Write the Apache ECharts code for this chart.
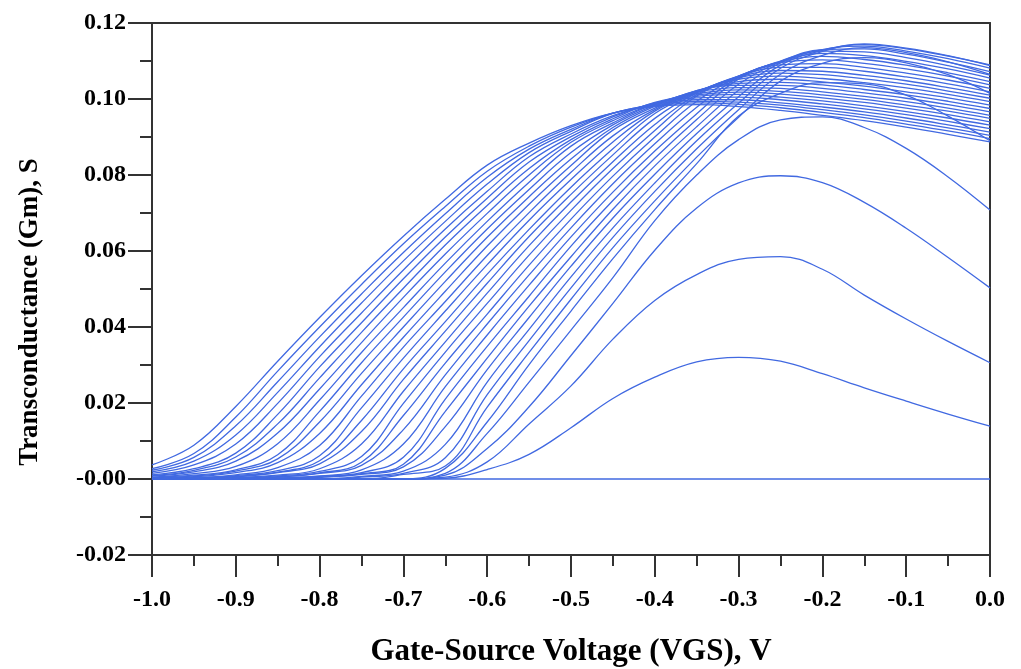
<!DOCTYPE html>
<html><head><meta charset="utf-8">
<script src="https://cdn.jsdelivr.net/npm/echarts@6/dist/echarts.min.js"></script>
<style>html,body{margin:0;padding:0;background:#fff}#c{width:1021px;height:669px}</style>
</head><body><div id="c"></div>
<script>
const vgs = [-1.00,-0.95,-0.90,-0.85,-0.80,-0.75,-0.70,-0.65,-0.60,-0.55,-0.50,-0.45,-0.40,-0.35,-0.30,-0.25,-0.20,-0.15,-0.10,-0.05,0.00];
const xTickLabels = ['-1.0','-0.9','-0.8','-0.7','-0.6','-0.5','-0.4','-0.3','-0.2','-0.1','0.0'];
const yTickLabels = ['-0.02','-0.00','0.02','0.04','0.06','0.08','0.10','0.12'];
const xTitle = 'Gate-Source Voltage (VGS), V';
const yTitle = 'Transconductance (Gm), S';

const gm00 = [0,0,0,0,0,0,0,0,0,0,0,0,0,0,0,0,0,0,0,0,0];
const gm01 = [0,0,0,0,0,0,0,0.0002,0.0025,0.0065,0.0135,0.0212,0.0268,0.0308,0.0320,0.0310,0.0277,0.0240,0.0205,0.0171,0.0139];
const gm02 = [0,0,0,0,0,0,0,0.0005,0.0045,0.0145,0.0245,0.0368,0.0470,0.0538,0.0578,0.0585,0.0552,0.0484,0.0421,0.0362,0.0306];
const gm03 = [0,0,0,0,0,0,0,0.0010,0.0080,0.0190,0.0325,0.0462,0.0602,0.0713,0.0779,0.0798,0.0780,0.0728,0.0660,0.0583,0.0503];
const gm04 = [0,0,0,0,0,0,0,0.0015,0.0120,0.0255,0.0392,0.0530,0.0680,0.0800,0.0893,0.0945,0.0953,0.0925,0.0870,0.0795,0.0708];
const gm05 = [0,0,0,0,0,0,0,0.0028,0.0150,0.0301,0.0442,0.0580,0.0709,0.0830,0.0955,0.1015,0.1043,0.1040,0.1010,0.0955,0.0890];
const gm06 = [0,0,0,0,0,0,0.0012,0.0034,0.0189,0.0333,0.0473,0.0609,0.0732,0.0847,0.0952,0.1047,0.1094,0.1109,0.1095,0.1064,0.1015];
const gm07 = [0,0,0,0,0,0.0005,0.0015,0.0056,0.0222,0.0364,0.0503,0.0636,0.0757,0.0869,0.0972,0.1065,0.1115,0.1135,0.1122,0.1098,0.1065];
const gm08 = [0,0,0,0,0,0.0007,0.0021,0.0091,0.0255,0.0394,0.0532,0.0661,0.0779,0.0890,0.0989,0.1081,0.1125,0.1145,0.1134,0.1114,0.1088];
const gm09 = [0,0,0,0,0.0004,0.0012,0.0032,0.0138,0.0288,0.0425,0.0560,0.0687,0.0802,0.0909,0.1006,0.1089,0.1128,0.1143,0.1132,0.1113,0.1090];
const gm10 = [0,0,0,0.0002,0.0005,0.0014,0.0039,0.0178,0.0318,0.0455,0.0585,0.0710,0.0824,0.0927,0.1023,0.1095,0.1130,0.1139,0.1126,0.1106,0.1081];
const gm11 = [0,0,0,0.0002,0.0007,0.0017,0.0057,0.0210,0.0349,0.0481,0.0613,0.0733,0.0844,0.0946,0.1039,0.1098,0.1130,0.1132,0.1118,0.1097,0.1072];
const gm12 = [0,0,0.0001,0.0003,0.0008,0.0024,0.0092,0.0243,0.0379,0.0510,0.0637,0.0755,0.0863,0.0961,0.1053,0.1100,0.1126,0.1124,0.1109,0.1088,0.1063];
const gm13 = [0,0,0.0001,0.0005,0.0015,0.0036,0.0130,0.0274,0.0408,0.0537,0.0661,0.0777,0.0882,0.0978,0.1057,0.1099,0.1120,0.1114,0.1099,0.1079,0.1055];
const gm14 = [0,0.0001,0.0002,0.0006,0.0016,0.0044,0.0167,0.0305,0.0434,0.0563,0.0684,0.0797,0.0900,0.0994,0.1059,0.1098,0.1112,0.1104,0.1089,0.1069,0.1046];
const gm15 = [0.0001,0.0001,0.0003,0.0008,0.0020,0.0059,0.0199,0.0334,0.0462,0.0589,0.0707,0.0817,0.0917,0.1008,0.1060,0.1096,0.1103,0.1094,0.1079,0.1060,0.1037];
const gm16 = [0.0001,0.0001,0.0004,0.0010,0.0027,0.0092,0.0231,0.0361,0.0489,0.0614,0.0729,0.0835,0.0933,0.1012,0.1060,0.1090,0.1093,0.1083,0.1068,0.1050,0.1028];
const gm17 = [0.0001,0.0002,0.0006,0.0017,0.0040,0.0125,0.0262,0.0389,0.0515,0.0638,0.0749,0.0853,0.0949,0.1016,0.1060,0.1083,0.1083,0.1073,0.1058,0.1040,0.1019];
const gm18 = [0.0001,0.0002,0.0007,0.0018,0.0048,0.0154,0.0290,0.0414,0.0539,0.0657,0.0768,0.0869,0.0962,0.1017,0.1058,0.1075,0.1073,0.1062,0.1048,0.1030,0.1010];
const gm19 = [0.0001,0.0003,0.0009,0.0022,0.0061,0.0187,0.0318,0.0442,0.0564,0.0681,0.0788,0.0887,0.0968,0.1019,0.1056,0.1068,0.1064,0.1053,0.1039,0.1021,0.1002];
const gm20 = [0.0002,0.0004,0.0011,0.0030,0.0088,0.0218,0.0347,0.0467,0.0588,0.0701,0.0807,0.0903,0.0972,0.1020,0.1052,0.1060,0.1054,0.1043,0.1029,0.1012,0.0993];
const gm21 = [0.0002,0.0006,0.0017,0.0043,0.0120,0.0248,0.0373,0.0494,0.0613,0.0723,0.0825,0.0918,0.0976,0.1022,0.1046,0.1052,0.1045,0.1034,0.1019,0.1003,0.0984];
const gm22 = [0.0003,0.0008,0.0021,0.0053,0.0150,0.0278,0.0400,0.0520,0.0636,0.0743,0.0842,0.0925,0.0981,0.1022,0.1041,0.1044,0.1037,0.1025,0.1011,0.0994,0.0975];
const gm23 = [0.0004,0.0010,0.0024,0.0064,0.0178,0.0306,0.0426,0.0545,0.0658,0.0762,0.0859,0.0932,0.0984,0.1021,0.1036,0.1036,0.1028,0.1016,0.1002,0.0985,0.0966];
const gm24 = [0.0005,0.0014,0.0033,0.0093,0.0208,0.0333,0.0451,0.0568,0.0678,0.0781,0.0876,0.0937,0.0987,0.1018,0.1030,0.1028,0.1019,0.1007,0.0993,0.0976,0.0957];
const gm25 = [0.0008,0.0019,0.0047,0.0121,0.0237,0.0359,0.0478,0.0592,0.0699,0.0800,0.0886,0.0943,0.0988,0.1014,0.1024,0.1020,0.1011,0.0999,0.0984,0.0968,0.0949];
const gm26 = [0.0009,0.0023,0.0058,0.0145,0.0266,0.0386,0.0502,0.0616,0.0720,0.0817,0.0893,0.0948,0.0991,0.1011,0.1018,0.1013,0.1003,0.0991,0.0976,0.0959,0.0940];
const gm27 = [0.0011,0.0027,0.0068,0.0170,0.0295,0.0411,0.0527,0.0637,0.0739,0.0834,0.0901,0.0953,0.0990,0.1007,0.1012,0.1005,0.0995,0.0982,0.0967,0.0950,0.0931];
const gm28 = [0.0015,0.0037,0.0092,0.0199,0.0322,0.0437,0.0550,0.0658,0.0757,0.0848,0.0908,0.0956,0.0988,0.1003,0.1005,0.0998,0.0987,0.0974,0.0959,0.0941,0.0922];
const gm29 = [0.0019,0.0047,0.0116,0.0228,0.0348,0.0463,0.0574,0.0678,0.0776,0.0859,0.0915,0.0962,0.0986,0.0998,0.0998,0.0990,0.0979,0.0966,0.0950,0.0932,0.0913];
const gm30 = [0.0023,0.0057,0.0140,0.0256,0.0374,0.0487,0.0596,0.0698,0.0794,0.0868,0.0920,0.0963,0.0984,0.0994,0.0992,0.0984,0.0972,0.0958,0.0942,0.0924,0.0904];
const gm31 = [0.0027,0.0067,0.0163,0.0284,0.0400,0.0512,0.0619,0.0717,0.0810,0.0876,0.0926,0.0963,0.0982,0.0990,0.0986,0.0977,0.0965,0.0951,0.0934,0.0916,0.0896];
const gm32 = [0.0037,0.0089,0.0191,0.0310,0.0425,0.0535,0.0639,0.0736,0.0826,0.0884,0.0930,0.0963,0.0980,0.0985,0.0980,0.0970,0.0957,0.0943,0.0926,0.0907,0.0887];

const curves = [gm00,gm01,gm02,gm03,gm04,gm05,gm06,gm07,gm08,gm09,gm10,gm11,gm12,gm13,gm14,gm15,gm16,
  gm17,gm18,gm19,gm20,gm21,gm22,gm23,gm24,gm25,gm26,gm27,gm28,gm29,gm30,gm31,gm32];

const AX = '#333';
const FONT = '"Liberation Serif", "Times New Roman", serif';
const labelStyle = {fontFamily: FONT, fontWeight: 'bold', fontSize: 24, color: '#000'};

const chart = echarts.init(document.getElementById('c'), null, {renderer: 'canvas'});
chart.setOption({
  animation: false,
  backgroundColor: '#fff',
  grid: {left: 152, right: 31, top: 23, bottom: 114, containLabel: false},
  xAxis: [{
    type: 'value', min: -1, max: 0, interval: 0.1, position: 'bottom',
    axisLine: {show: true, onZero: false, lineStyle: {color: AX, width: 2}},
    axisTick: {show: true, length: 22, lineStyle: {color: AX, width: 2}},
    minorTick: {show: true, splitNumber: 2, length: 11, lineStyle: {color: AX, width: 2}},
    splitLine: {show: false}, minorSplitLine: {show: false},
    axisLabel: Object.assign({margin: 33, formatter: v => xTickLabels[Math.round((v + 1) / 0.1)]}, labelStyle)
  }, {
    type: 'value', min: -1, max: 0, position: 'top',
    axisLine: {show: true, onZero: false, lineStyle: {color: AX, width: 2}},
    axisTick: {show: false}, axisLabel: {show: false}, splitLine: {show: false}
  }],
  yAxis: [{
    type: 'value', min: -0.02, max: 0.12, interval: 0.02, position: 'left',
    axisLine: {show: true, onZero: false, lineStyle: {color: AX, width: 2}},
    axisTick: {show: true, length: 24, lineStyle: {color: AX, width: 2}},
    minorTick: {show: true, splitNumber: 2, length: 12, lineStyle: {color: AX, width: 2}},
    splitLine: {show: false}, minorSplitLine: {show: false},
    axisLabel: Object.assign({margin: 26, formatter: v => yTickLabels[Math.round((v + 0.02) / 0.02)]}, labelStyle)
  }, {
    type: 'value', min: -0.02, max: 0.12, position: 'right',
    axisLine: {show: true, onZero: false, lineStyle: {color: AX, width: 2}},
    axisTick: {show: false}, axisLabel: {show: false}, splitLine: {show: false}
  }],
  graphic: [{
    type: 'text', x: 571, y: 652,
    style: {text: xTitle, fill: '#000', font: 'bold 31px ' + FONT, align: 'center', verticalAlign: 'middle'}
  }, {
    type: 'text', x: 30, y: 312, rotation: Math.PI / 2,
    style: {text: yTitle, fill: '#000', font: 'bold 27px ' + FONT, align: 'center', verticalAlign: 'middle'}
  }],
  series: curves.map((arr, k) => ({
    name: 'VDS' + k,
    type: 'line',
    xAxisIndex: 0, yAxisIndex: 0,
    data: vgs.map((x, i) => [x, arr[i]]),
    showSymbol: false, symbol: 'none',
    smooth: 0.4,
    silent: true,
    lineStyle: {color: '#4169E1', width: 1.3}
  }))
});
</script>
</body></html>
